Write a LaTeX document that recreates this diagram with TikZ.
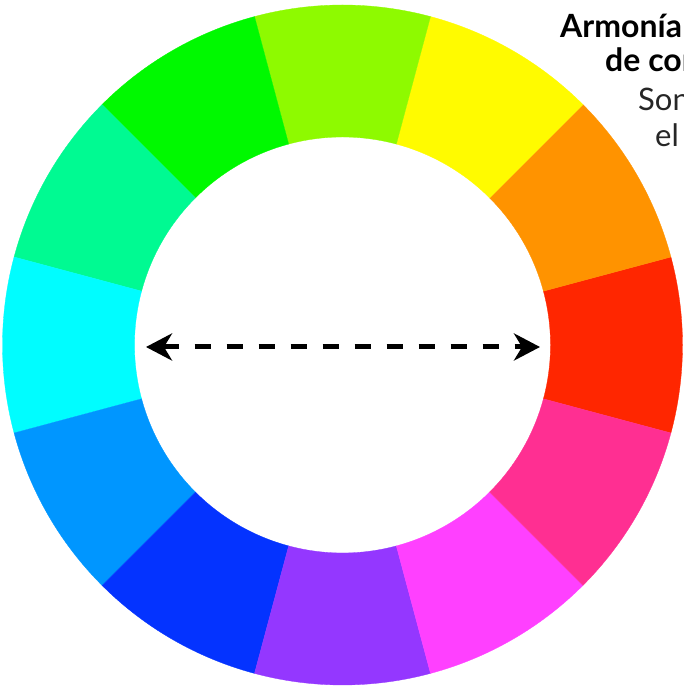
\documentclass[tikz,border=0pt]{standalone}
\usepackage{fontspec}
\setmainfont{Lato}
\usetikzlibrary{arrows.meta}
\definecolor{c0}{HTML}{FF2600}
\definecolor{c1}{HTML}{FF9300}
\definecolor{c2}{HTML}{FFFB00}
\definecolor{c3}{HTML}{8EFA00}
\definecolor{c4}{HTML}{00F900}
\definecolor{c5}{HTML}{00FA92}
\definecolor{c6}{HTML}{00FDFF}
\definecolor{c7}{HTML}{0096FF}
\definecolor{c8}{HTML}{0433FF}
\definecolor{c9}{HTML}{9437FF}
\definecolor{c10}{HTML}{FF40FF}
\definecolor{c11}{HTML}{FF2F92}
\tikzset{
  titletext/.style={anchor=base west, inner sep=0pt, font=\fontsize{32}{38}\selectfont\bfseries},
  bodytext/.style={anchor=base west, inner sep=0pt, font=\fontsize{31}{38}\selectfont, text=black!85},
  dasharrow/.style={line width=5pt, dash pattern=on 16pt off 16pt,
    {Stealth[length=26pt,width=27pt,inset=8pt]}-{Stealth[length=26pt,width=27pt,inset=8pt]}}
}
\begin{document}
\begin{tikzpicture}[x=1pt,y=1pt]
\useasboundingbox (0,0) rectangle (683,687);
\coordinate (C) at (342.5,342);
\def\Rout{340}
\def\Rin{208}
\foreach \i in {0,...,11}{
  \pgfmathsetmacro{\a}{30*\i-15}
  \pgfmathsetmacro{\b}{30*\i+15}
  \fill[c\i, draw=c\i, line width=0.3pt] ([shift={(\a:\Rin)}]C) -- ([shift={(\a:\Rout)}]C)
    arc[start angle=\a, end angle=\b, radius=\Rout]
    -- ([shift={(\b:\Rin)}]C)
    arc[start angle=\b, end angle=\a, radius=\Rin] -- cycle;
}
\coordinate (L) at (146,340);
\coordinate (R) at (540,340);
\draw[dasharrow] (L) -- (R);
\node[titletext] (t1) at (560,649) {Armonía};
\node[titletext] (t2) at (605,615) {de com};
\node[bodytext] (t3) at (638,576) {Son};
\node[bodytext] (t4) at (655,540) {el};
\end{tikzpicture}
\end{document}
